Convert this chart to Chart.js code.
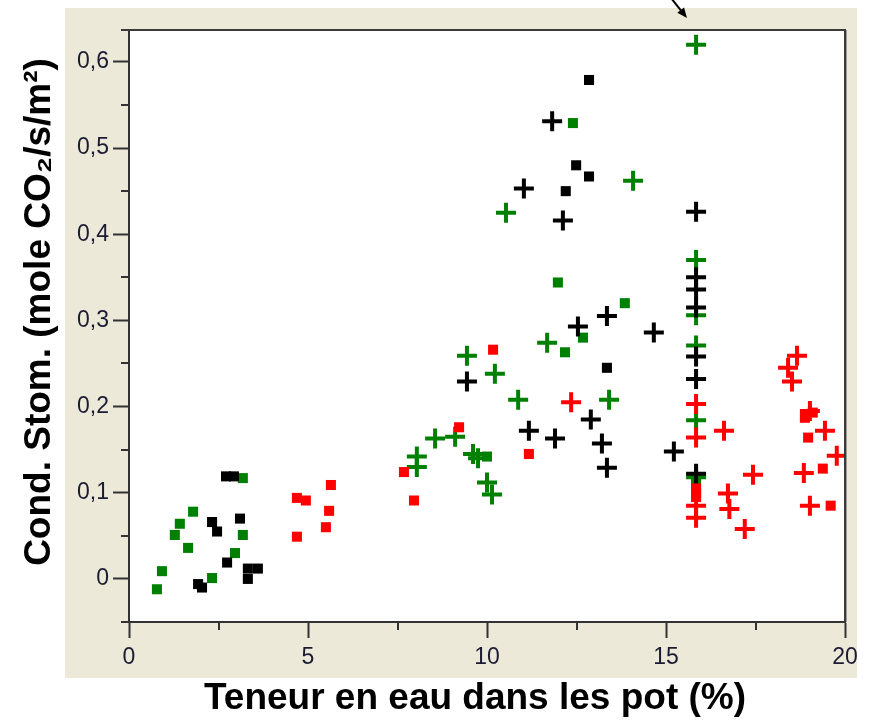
<!DOCTYPE html>
<html>
<head>
<meta charset="utf-8">
<script src="https://cdn.jsdelivr.net/npm/chart.js@4.4.0/dist/chart.umd.min.js"></script>
<style>
  html, body { margin: 0; padding: 0; background: #fff; }
  #wrap { width: 869px; height: 721px; }
</style>
</head>
<body>
<div id="wrap"><canvas id="chart" width="869" height="721"></canvas></div>
<script>
// axis ticks
const xTicks = [0, 5, 10, 15, 20];
const yTicks = [0, 0.1, 0.2, 0.3, 0.4, 0.5, 0.6];
const xMinor = [2.5, 7.5, 12.5, 17.5];
const yMinor = [-0.05, 0.05, 0.15, 0.25, 0.35, 0.45, 0.55];

const xTitle = 'Teneur en eau dans les pot (%)';
const yTitle = 'Cond. Stom. (mole CO₂/s/m²)';

// green series
const greenSquareX = [0.78, 0.92, 1.28, 1.42, 1.65, 1.79, 2.32, 2.96, 3.18, 3.18, 10.0, 11.98, 12.40, 12.18, 12.68, 13.85, 15.84, 15.84];
const greenSquareY = [-0.012, 0.009, 0.051, 0.064, 0.036, 0.078, 0.001, 0.030, 0.051, 0.117, 0.142, 0.344, 0.529, 0.263, 0.280, 0.320, 0.114, 0.118];
const greenCrossX = [8.04, 8.04, 8.55, 9.11, 9.44, 9.61, 9.75, 10.0, 10.14, 10.22, 10.53, 10.87, 11.68, 13.41, 14.08, 15.84, 15.84, 15.84, 15.84, 15.84, 15.84];
const greenCrossY = [0.142, 0.130, 0.163, 0.165, 0.259, 0.145, 0.140, 0.112, 0.098, 0.238, 0.425, 0.208, 0.274, 0.208, 0.462, 0.620, 0.370, 0.306, 0.271, 0.184, 0.118];

// black series
const blackSquareX = [1.93, 2.04, 2.32, 2.46, 2.71, 2.93, 3.10, 2.74, 3.32, 3.60, 3.32, 12.20, 12.49, 12.85, 12.85, 13.35];
const blackSquareY = [-0.006, -0.010, 0.066, 0.055, 0.119, 0.119, 0.070, 0.019, 0.012, 0.012, 0.000, 0.450, 0.480, 0.467, 0.579, 0.245];
const blackCrossX = [9.44, 11.03, 11.17, 11.82, 11.90, 12.12, 12.54, 12.90, 13.21, 13.35, 13.35, 14.66, 15.22, 15.84, 15.84, 15.84, 15.84, 15.84, 15.84, 15.84];
const blackCrossY = [0.229, 0.453, 0.172, 0.531, 0.163, 0.416, 0.293, 0.185, 0.157, 0.305, 0.129, 0.286, 0.148, 0.426, 0.350, 0.336, 0.315, 0.258, 0.232, 0.122];

// red series
const redSquareX = [4.69, 4.94, 4.69, 5.50, 5.59, 5.64, 7.68, 7.96, 9.22, 10.17, 11.17, 15.84, 15.84, 15.84, 18.88, 19.10, 18.97, 19.38, 19.60];
const redSquareY = [0.094, 0.091, 0.049, 0.060, 0.079, 0.109, 0.124, 0.091, 0.176, 0.266, 0.145, 0.105, 0.095, 0.100, 0.187, 0.193, 0.164, 0.128, 0.085];
const redCrossX = [12.35, 15.84, 15.84, 15.84, 15.84, 16.62, 17.43, 16.73, 16.77, 17.20, 18.66, 18.41, 18.52, 19.02, 19.44, 19.77, 18.85, 19.02];
const redCrossY = [0.205, 0.203, 0.164, 0.085, 0.071, 0.172, 0.121, 0.099, 0.081, 0.058, 0.259, 0.245, 0.229, 0.195, 0.172, 0.143, 0.123, 0.085];

const GREEN = '#008000';
const RED = '#ff0000';
const BLACK = '#000000';
const BEIGE = '#ece9d8';
const AXIS = '#333333';
const sans = "'Liberation Sans', Arial, sans-serif";

function toPoints(xs, ys) {
    return xs.map((x, i) => ({ x: x, y: ys[i] }));
}

function squares(xs, ys, color) {
    return {
        data: toPoints(xs, ys),
        pointStyle: 'rect',
        pointRadius: 7.1,
        backgroundColor: color,
        borderWidth: 0,
        clip: false
    };
}

function crosses(xs, ys, color) {
    return {
        data: toPoints(xs, ys),
        pointStyle: 'cross',
        pointRadius: 10,
        borderColor: color,
        borderWidth: 4,
        clip: false
    };
}

// background panel, minor ticks, plot frame, axis titles and the arrow at the top
const frame = {
    id: 'frame',
    beforeDraw(chart) {
        const ctx = chart.ctx;
        const a = chart.chartArea;
        ctx.save();
        ctx.fillStyle = '#fff';
        ctx.fillRect(0, 0, chart.width, chart.height);
        ctx.fillStyle = BEIGE;
        ctx.fillRect(65, 8, 792, 670);
        ctx.fillStyle = '#fff';
        ctx.fillRect(a.left, a.top, a.right - a.left, a.bottom - a.top);
        ctx.restore();
    },
    afterDraw(chart) {
        const ctx = chart.ctx;
        const a = chart.chartArea;
        const xs = chart.scales.x;
        const ys = chart.scales.y;
        ctx.save();
        ctx.strokeStyle = AXIS;
        ctx.lineWidth = 2;
        ctx.beginPath();
        xMinor.forEach(v => {
            const px = Math.round(xs.getPixelForValue(v));
            ctx.moveTo(px, a.bottom);
            ctx.lineTo(px, a.bottom + 8);
        });
        yMinor.forEach(v => {
            const py = Math.round(ys.getPixelForValue(v));
            ctx.moveTo(a.left, py);
            ctx.lineTo(a.left - 8, py);
        });
        ctx.stroke();

        // top and right edges of the plot
        ctx.strokeStyle = '#3a3a3a';
        ctx.lineWidth = 2;
        ctx.beginPath();
        ctx.moveTo(a.left - 8, a.top);
        ctx.lineTo(a.right, a.top);
        ctx.lineTo(a.right, a.bottom);
        ctx.stroke();
        ctx.strokeStyle = '#9a9a9a';
        ctx.lineWidth = 1;
        ctx.beginPath();
        ctx.moveTo(a.right + 1.5, a.top);
        ctx.lineTo(a.right + 1.5, a.bottom);
        ctx.stroke();

        // axis titles
        ctx.fillStyle = BLACK;
        ctx.textAlign = 'center';
        ctx.textBaseline = 'middle';
        ctx.font = 'bold 37px ' + sans;
        ctx.fillText(xTitle, 475, 699);
        ctx.save();
        ctx.translate(40, 312);
        ctx.rotate(-Math.PI / 2);
        ctx.fillText(yTitle, 0, 0);
        ctx.restore();

        // arrow pointing at the top edge
        const x0 = 671, y0 = -2, x1 = 687, y1 = 18;
        const ang = Math.atan2(y1 - y0, x1 - x0);
        ctx.strokeStyle = BLACK;
        ctx.lineWidth = 2;
        ctx.beginPath();
        ctx.moveTo(x0, y0);
        ctx.lineTo(x1 - 6 * Math.cos(ang), y1 - 6 * Math.sin(ang));
        ctx.stroke();
        ctx.beginPath();
        ctx.moveTo(x1, y1);
        ctx.lineTo(x1 - 11 * Math.cos(ang - 0.4), y1 - 11 * Math.sin(ang - 0.4));
        ctx.lineTo(x1 - 11 * Math.cos(ang + 0.4), y1 - 11 * Math.sin(ang + 0.4));
        ctx.closePath();
        ctx.fill();
        ctx.restore();
    }
};

const ctx = document.getElementById('chart').getContext('2d');
const chart = new Chart(ctx, {
    type: 'scatter',
    data: {
        datasets: [
            crosses(redCrossX, redCrossY, RED),
            squares(redSquareX, redSquareY, RED),
            crosses(blackCrossX, blackCrossY, BLACK),
            squares(blackSquareX, blackSquareY, BLACK),
            crosses(greenCrossX, greenCrossY, GREEN),
            squares(greenSquareX, greenSquareY, GREEN)
        ]
    },
    options: {
        responsive: false,
        animation: false,
        events: [],
        layout: { padding: { top: 30, right: 24, left: 0, bottom: 0 } },
        plugins: {
            legend: { display: false },
            tooltip: { enabled: false }
        },
        scales: {
            x: {
                type: 'linear',
                min: 0,
                max: 20,
                afterBuildTicks: s => { s.ticks = xTicks.map(v => ({ value: v })); },
                afterFit: s => { s.height = 99; },
                border: { color: AXIS, width: 2 },
                grid: { drawOnChartArea: false, tickLength: 16, tickColor: AXIS, tickWidth: 2 },
                ticks: {
                    color: '#1b1b33',
                    padding: 6,
                    maxRotation: 0,
                    font: { family: sans, size: 23 },
                    callback: v => String(v)
                }
            },
            y: {
                type: 'linear',
                min: -0.05,
                max: 0.637,
                afterBuildTicks: s => { s.ticks = yTicks.map(v => ({ value: v })); },
                afterFit: s => { s.width = 129; },
                border: { color: AXIS, width: 2 },
                grid: { drawOnChartArea: false, tickLength: 16, tickColor: AXIS, tickWidth: 2 },
                ticks: {
                    color: '#1b1b33',
                    padding: 4,
                    font: { family: sans, size: 23 },
                    callback: v => v === 0 ? '0' : v.toFixed(1).replace('.', ',')
                }
            }
        }
    },
    plugins: [frame]
});
</script>
</body>
</html>
